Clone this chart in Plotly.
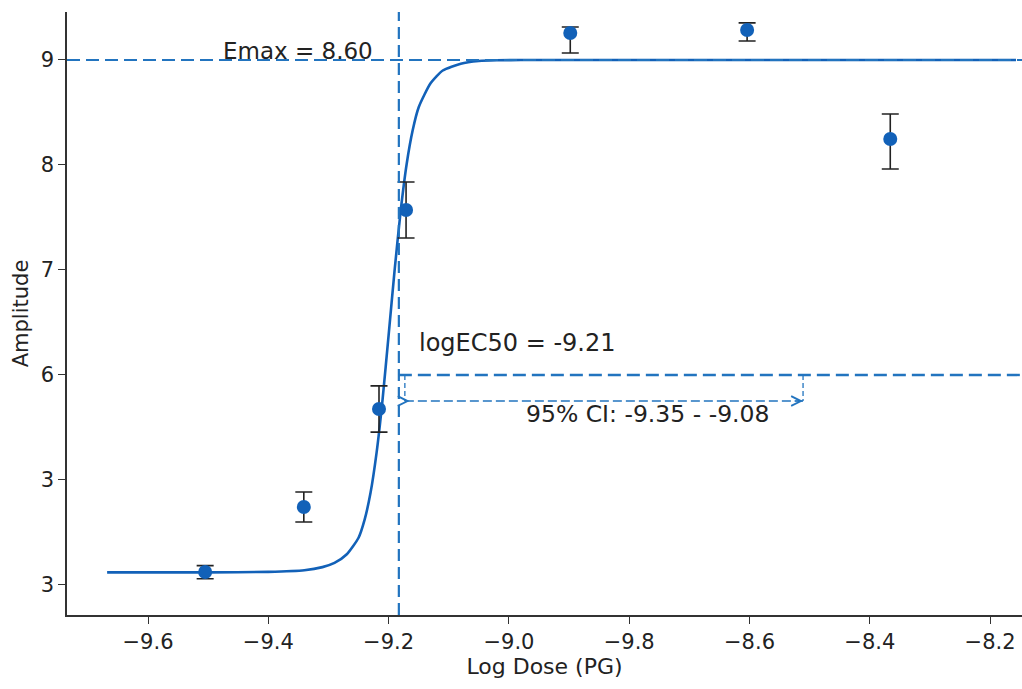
import plotly.graph_objects as go

# ---- data ----
dose = [-9.505, -9.341, -9.216, -9.171, -8.898, -8.604, -8.366]
amplitude = [4.124, 4.743, 5.676, 7.571, 9.257, 9.286, 8.248]
err_plus = [0.06, 0.143, 0.22, 0.267, 0.057, 0.067, 0.238]
err_minus = [0.065, 0.143, 0.22, 0.267, 0.19, 0.105, 0.286]

fit_x = [-9.668, -9.50, -9.40, -9.34, -9.31, -9.29, -9.27, -9.25, -9.24, -9.23,
         -9.22, -9.21, -9.20, -9.19, -9.18, -9.17, -9.16, -9.15, -9.13, -9.11,
         -9.08, -9.05, -9.02, -8.98, -8.60, -8.157]
fit_y = [4.12, 4.12, 4.125, 4.14, 4.17, 4.21, 4.29, 4.45, 4.62, 4.88,
         5.26, 5.77, 6.38, 7.00, 7.56, 8.01, 8.33, 8.55, 8.78, 8.90,
         8.965, 8.99, 8.997, 9.0, 9.0, 9.0]

x_tickvals = [-9.6, -9.4, -9.2, -9.0, -8.8, -8.6, -8.4, -8.2]
x_ticktext = ["\u22129.6", "\u22129.4", "\u22129.2", "\u22129.0", "\u22129.8", "\u22128.6", "\u22128.4", "\u22128.2"]
y_tickvals = [4, 5, 6, 7, 8, 9]
y_ticktext = ["3", "3", "6", "7", "8", "9"]

emax_level = 9.0
ec50_x = -9.183
ec50_level = 6.0
ci_low, ci_high = -9.173, -8.511
ci_level = 5.752

x_range = [-9.7347, -8.147]
y_range = [3.714, 9.457]

FONT = "DejaVu Sans"
BLUE = "#1261b8"
DASH_BLUE = "#2274bf"
INK = "#222222"

fig = go.Figure()

fig.add_trace(go.Scatter(
    x=fit_x, y=fit_y, mode="lines",
    line=dict(color=BLUE, width=2.6, shape="spline", smoothing=0.6),
    showlegend=False, hoverinfo="skip"))

fig.add_trace(go.Scatter(
    x=dose, y=amplitude, mode="markers",
    marker=dict(color=BLUE, size=14),
    error_y=dict(type="data", symmetric=False, array=err_plus, arrayminus=err_minus,
                 color=INK, thickness=1.6, width=8.5),
    showlegend=False))

shapes = [
    dict(type="line", xref="paper", yref="y", x0=0, x1=1, y0=emax_level, y1=emax_level,
         line=dict(color=DASH_BLUE, width=2.2, dash="13px,6px")),
    dict(type="line", xref="x", yref="paper", x0=ec50_x, x1=ec50_x, y0=0, y1=1,
         line=dict(color=DASH_BLUE, width=2.2, dash="12px,6px")),
    dict(type="line", xref="x", yref="y", x0=ec50_x, x1=x_range[1], y0=ec50_level, y1=ec50_level,
         line=dict(color=DASH_BLUE, width=2.4, dash="13px,6px")),
    dict(type="line", xref="x", yref="y", x0=ci_low, x1=ci_high, y0=ci_level, y1=ci_level,
         line=dict(color=DASH_BLUE, width=1.3, dash="9px,4px")),
    dict(type="line", xref="x", yref="y", x0=ci_low, x1=ci_low, y0=ec50_level, y1=ci_level,
         line=dict(color=DASH_BLUE, width=1.3, dash="5px,3px")),
    dict(type="line", xref="x", yref="y", x0=ci_high, x1=ci_high, y0=ec50_level, y1=ci_level,
         line=dict(color=DASH_BLUE, width=1.3, dash="5px,3px")),
]

annotations = [
    dict(x=ci_high, y=ci_level, xref="x", yref="y", ax=-10, ay=0, text="",
         showarrow=True, arrowhead=5, arrowsize=1.6, arrowwidth=1.2, arrowcolor=DASH_BLUE),
    dict(x=ci_low + 0.008, y=ci_level, xref="x", yref="y", ax=-6, ay=0, text="",
         showarrow=True, arrowhead=5, arrowsize=1.6, arrowwidth=1.2, arrowcolor=DASH_BLUE),
    dict(x=-9.350, y=9.085, xref="x", yref="y", text="Emax = 8.60", showarrow=False,
         font=dict(family=FONT, size=23, color=INK), xanchor="center", yanchor="middle"),
    dict(x=-9.153, y=6.305, xref="x", yref="y", text="logEC50 = -9.21", showarrow=False,
         font=dict(family=FONT, size=24, color=INK), xanchor="left", yanchor="middle"),
    dict(x=-8.770, y=5.629, xref="x", yref="y", text="95% CI: -9.35 - -9.08", showarrow=False,
         font=dict(family=FONT, size=23.5, color=INK), xanchor="center", yanchor="middle"),
]

fig.update_layout(
    width=1022, height=689,
    margin=dict(l=67, r=0, t=12, b=74),
    paper_bgcolor="white", plot_bgcolor="white",
    font=dict(family=FONT, color=INK),
    shapes=shapes, annotations=annotations,
    showlegend=False,
)
fig.update_xaxes(
    range=x_range, tickvals=x_tickvals, ticktext=x_ticktext,
    showgrid=False, zeroline=False, showline=True, linecolor="#333333", linewidth=1.5,
    ticks="outside", ticklen=7, tickwidth=1.3, tickcolor="#333333",
    tickfont=dict(family=FONT, size=21, color=INK),
    title=dict(text="Log Dose (PG)", font=dict(family=FONT, size=22, color=INK), standoff=6),
)
fig.update_yaxes(
    range=y_range, tickvals=y_tickvals, ticktext=y_ticktext,
    showgrid=False, zeroline=False, showline=True, linecolor="#333333", linewidth=1.5,
    ticks="outside", ticklen=7, tickwidth=1.3, tickcolor="#333333",
    tickfont=dict(family=FONT, size=21, color=INK),
    title=dict(text="Amplitude", font=dict(family=FONT, size=21, color=INK), standoff=6),
)

fig.write_html("out.html")
